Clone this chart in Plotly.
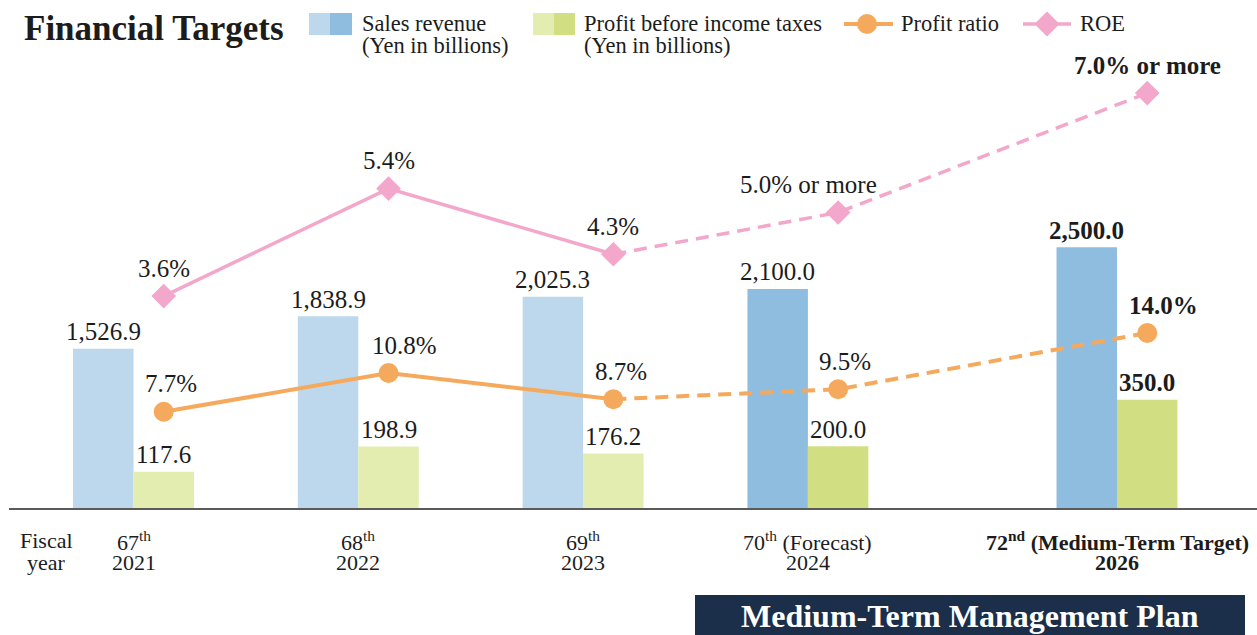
import plotly.graph_objects as go

# ---------------- data ----------------
fiscal_ordinals = ["67<sup>th</sup>", "68<sup>th</sup>", "69<sup>th</sup>",
                   "70<sup>th</sup> (Forecast)", "72<sup>nd</sup> (Medium-Term Target)"]
fiscal_years = ["2021", "2022", "2023", "2024", "2026"]
sales_revenue = [1526.9, 1838.9, 2025.3, 2100.0, 2500.0]      # Yen in billions
profit_before_tax = [117.6, 198.9, 176.2, 200.0, 350.0]        # Yen in billions
profit_ratio = [7.7, 10.8, 8.7, 9.5, 14.0]                     # %
roe = [3.6, 5.4, 4.3, 5.0, 7.0]                                # %
roe_labels = ["3.6%", "5.4%", "4.3%", "5.0% or more", "7.0% or more"]
is_plan = [False, False, False, True, True]                    # forecast / target
is_target = [False, False, False, False, True]

# ---------------- layout / style ----------------
W, H = 1257, 635
ML, MR, MT, MB = 9, 0, 50, 127
PW, PH = W - ML - MR, H - MT - MB
x_pos = [0, 1, 2, 3, 4.375]          # category slots (71st is skipped)
bw = 0.269                            # bar width (x units)
FONT = "Liberation Serif, Times New Roman, serif"
TXT = "#1c1c1c"
C_SALES_L, C_SALES_D = "#BDD8EC", "#8FBDE0"
C_PROF_L, C_PROF_D = "#E3EDB0", "#D1DF82"
C_SALES = [C_SALES_D if p else C_SALES_L for p in is_plan]
C_PROF = [C_PROF_D if p else C_PROF_L for p in is_plan]
ORANGE = "#F5A95C"
PINK = "#F2A7CB"
NAVY = "#1B2E4A"

line_x = [p + bw / 2 for p in x_pos]


def px_x(px):
    return (px - ML) / PW


def px_y(py):
    return (MT + PH - py) / PH


def bold(s, flag):
    return f"<b>{s}</b>" if flag else s


fig = go.Figure()

fig.add_trace(go.Bar(x=x_pos, y=sales_revenue, width=bw, offset=-bw,
                     marker=dict(color=C_SALES, line=dict(width=0)),
                     yaxis="y", showlegend=False, hoverinfo="skip"))
fig.add_trace(go.Bar(x=x_pos, y=profit_before_tax, width=bw, offset=0,
                     marker=dict(color=C_PROF, line=dict(width=0)),
                     yaxis="y2", showlegend=False, hoverinfo="skip"))

# profit ratio line
fig.add_trace(go.Scatter(x=line_x[:3], y=profit_ratio[:3], mode="lines", yaxis="y3",
                         line=dict(color=ORANGE, width=4), showlegend=False, hoverinfo="skip"))
fig.add_trace(go.Scatter(x=line_x[2:], y=profit_ratio[2:], mode="lines", yaxis="y3",
                         line=dict(color=ORANGE, width=4, dash="13px,8px"),
                         showlegend=False, hoverinfo="skip"))
fig.add_trace(go.Scatter(x=line_x, y=profit_ratio, mode="markers", yaxis="y3",
                         marker=dict(color=ORANGE, size=20, symbol="circle"),
                         showlegend=False, hoverinfo="skip"))
# ROE line
fig.add_trace(go.Scatter(x=line_x[:3], y=roe[:3], mode="lines", yaxis="y4",
                         line=dict(color=PINK, width=3.5), showlegend=False, hoverinfo="skip"))
fig.add_trace(go.Scatter(x=line_x[2:], y=roe[2:], mode="lines", yaxis="y4",
                         line=dict(color=PINK, width=3.5, dash="13px,8px"),
                         showlegend=False, hoverinfo="skip"))
fig.add_trace(go.Scatter(x=line_x, y=roe, mode="markers", yaxis="y4",
                         marker=dict(color=PINK, size=19, symbol="diamond"),
                         showlegend=False, hoverinfo="skip"))

ann = []
VAL = 25
# bar value labels
for i, p in enumerate(x_pos):
    ann.append(dict(x=p - bw / 2, y=sales_revenue[i], xref="x", yref="y",
                    text=bold(f"{sales_revenue[i]:,.1f}", is_target[i]),
                    showarrow=False, xanchor="center", yanchor="middle", yshift=17,
                    font=dict(family=FONT, size=VAL, color=TXT)))
    ann.append(dict(x=p + bw / 2, y=profit_before_tax[i], xref="x", yref="y2",
                    text=bold(f"{profit_before_tax[i]:,.1f}", is_target[i]),
                    showarrow=False, xanchor="center", yanchor="middle", yshift=17,
                    font=dict(family=FONT, size=VAL, color=TXT)))
ratio_xshift = [7, 16, 8, 7, 16]
roe_xshift = [0, 0, 0, -30, 0]
for i, lx in enumerate(line_x):
    ann.append(dict(x=lx, y=profit_ratio[i], xref="x", yref="y3",
                    text=bold(f"{profit_ratio[i]:.1f}%", is_target[i]),
                    showarrow=False, xanchor="center", yanchor="middle", yshift=28,
                    xshift=ratio_xshift[i], font=dict(family=FONT, size=VAL, color=TXT)))
    ann.append(dict(x=lx, y=roe[i], xref="x", yref="y4",
                    text=bold(roe_labels[i], is_target[i]),
                    showarrow=False, xanchor="center", yanchor="middle", yshift=28,
                    xshift=roe_xshift[i], font=dict(family=FONT, size=VAL, color=TXT)))

# category labels (two rows)
TICK = 22
for i, p in enumerate(x_pos):
    ann.append(dict(x=p, y=px_y(540.5), xref="x", yref="paper",
                    text=bold(fiscal_ordinals[i], is_target[i]), showarrow=False,
                    xanchor="center", yanchor="middle",
                    font=dict(family=FONT, size=TICK, color=TXT)))
    ann.append(dict(x=p, y=px_y(562), xref="x", yref="paper",
                    text=bold(fiscal_years[i], is_target[i]), showarrow=False,
                    xanchor="center", yanchor="middle",
                    font=dict(family=FONT, size=TICK, color=TXT)))
ann.append(dict(x=px_x(46), y=px_y(540.5), xref="paper", yref="paper", text="Fiscal",
                showarrow=False, xanchor="center", yanchor="middle",
                font=dict(family=FONT, size=TICK, color=TXT)))
ann.append(dict(x=px_x(46), y=px_y(562), xref="paper", yref="paper", text="year",
                showarrow=False, xanchor="center", yanchor="middle",
                font=dict(family=FONT, size=TICK, color=TXT)))

# title
ann.append(dict(x=px_x(22), y=px_y(28), xref="paper", yref="paper", text="<b>Financial Targets</b>",
                showarrow=False, xanchor="left", yanchor="middle",
                font=dict(family=FONT, size=35, color=TXT)))

# legend
LEG = 22.5
shapes = []


def rect(x0, x1, y0, y1, color):
    shapes.append(dict(type="rect", xref="paper", yref="paper", x0=px_x(x0), x1=px_x(x1),
                       y0=px_y(y1), y1=px_y(y0), fillcolor=color, line=dict(width=0), layer="above"))


rect(309, 330, 13, 35, C_SALES_L)
rect(330, 352, 13, 35, C_SALES_D)
rect(533, 554, 13, 35, C_PROF_L)
rect(554, 575, 13, 35, C_PROF_D)
for txt, xl, yc in [("Sales revenue", 360, 24), ("(Yen in billions)", 360, 46),
                    ("Profit before income taxes", 582, 24), ("(Yen in billions)", 582, 46),
                    ("Profit ratio", 899, 24), ("ROE", 1078, 24)]:
    ann.append(dict(x=px_x(xl), y=px_y(yc), xref="paper", yref="paper", text=txt,
                    showarrow=False, xanchor="left", yanchor="middle",
                    font=dict(family=FONT, size=LEG, color=TXT)))
# orange legend symbol
shapes.append(dict(type="line", xref="paper", yref="paper", x0=px_x(844), x1=px_x(893),
                   y0=px_y(24), y1=px_y(24), line=dict(color=ORANGE, width=4)))
shapes.append(dict(type="circle", xref="paper", yref="paper", x0=px_x(857), x1=px_x(877),
                   y0=px_y(34), y1=px_y(14), fillcolor=ORANGE, line=dict(width=0)))
# pink legend symbol
shapes.append(dict(type="line", xref="paper", yref="paper", x0=px_x(1023), x1=px_x(1071),
                   y0=px_y(24), y1=px_y(24), line=dict(color=PINK, width=3.5)))
cx, cy, r = 1047, 24, 12.5
shapes.append(dict(type="path", xref="paper", yref="paper",
                   path=f"M{px_x(cx - r)},{px_y(cy)} L{px_x(cx)},{px_y(cy - r)} "
                        f"L{px_x(cx + r)},{px_y(cy)} L{px_x(cx)},{px_y(cy + r)} Z",
                   fillcolor=PINK, line=dict(width=0)))

# Medium-Term Management Plan box
shapes.append(dict(type="rect", xref="paper", yref="paper", x0=px_x(695), x1=px_x(1245),
                   y0=px_y(640), y1=px_y(595), fillcolor=NAVY, line=dict(width=0)))
ann.append(dict(x=px_x(970), y=px_y(616), xref="paper", yref="paper",
                text="<b>Medium-Term Management Plan</b>", showarrow=False,
                xanchor="center", yanchor="middle",
                font=dict(family=FONT, size=32, color="white")))

hidden = dict(visible=False, fixedrange=True)
fig.update_layout(
    width=W, height=H,
    margin=dict(l=ML, r=MR, t=MT, b=MB),
    paper_bgcolor="white", plot_bgcolor="white",
    barmode="overlay",
    showlegend=False,
    xaxis=dict(range=[(ML - 133.5) / 224.8, (W - 133.5) / 224.8],
               showgrid=False, zeroline=False, showticklabels=False, ticks="",
               showline=True, linecolor="#5a5a5a", linewidth=1.5, fixedrange=True),
    yaxis=dict(range=[0, PH / 0.1043], **hidden),
    yaxis2=dict(range=[0, PH / 0.309], overlaying="y", **hidden),
    yaxis3=dict(range=[0, PH / 12.5], overlaying="y", **hidden),
    yaxis4=dict(range=[0.05, 0.05 + PH / 59.7], overlaying="y", **hidden),
    annotations=ann,
    shapes=shapes,
)

fig.write_html("out.html", config={"displayModeBar": False},
               post_script="document.body.style.margin='0px';")
